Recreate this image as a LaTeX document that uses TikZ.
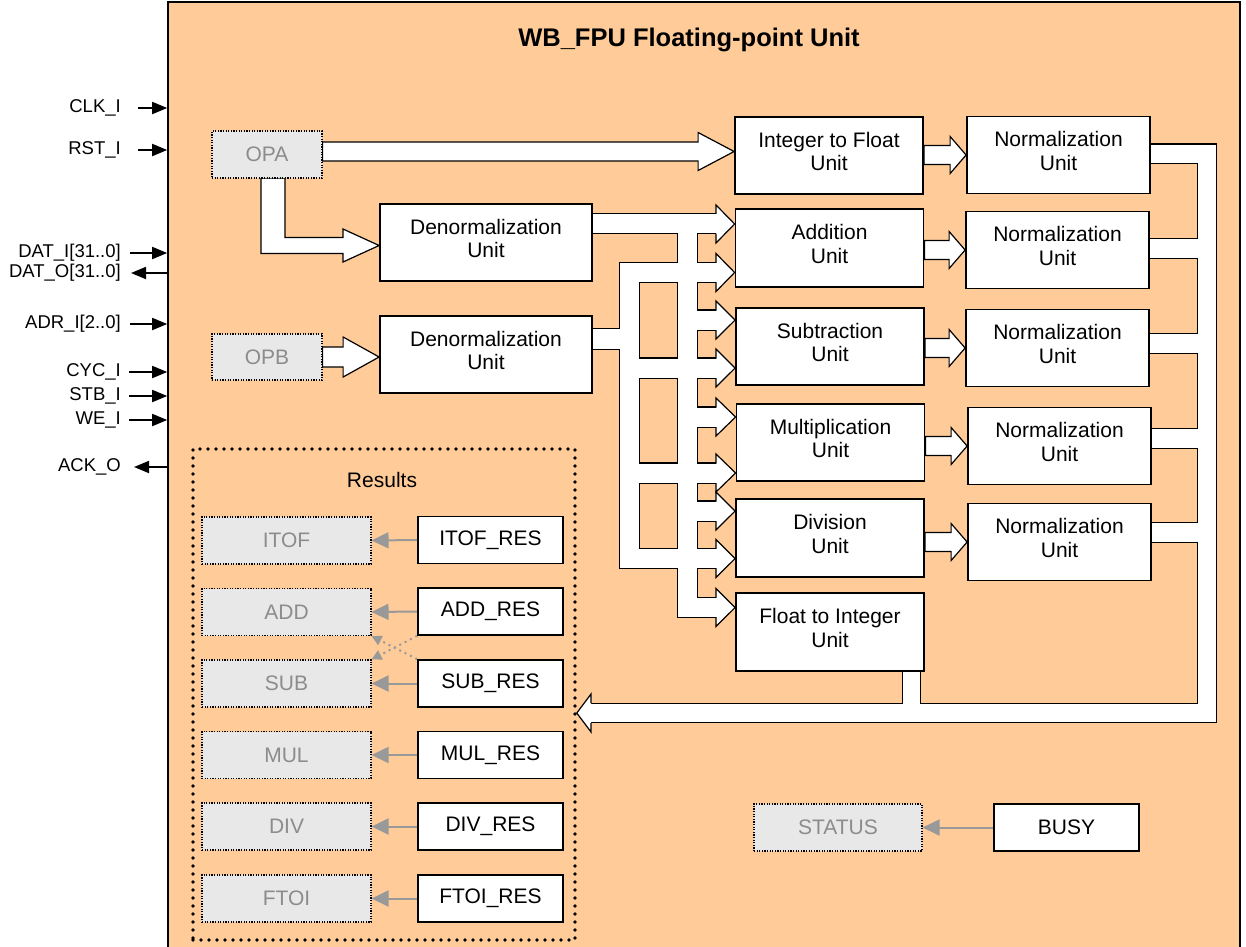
\documentclass[tikz,border=0pt]{standalone}
\usepackage{fontspec}
\setmainfont{Liberation Sans}
\usetikzlibrary{calc,arrows.meta}
\definecolor{fpuorange}{HTML}{FFCC99}
\definecolor{boxgray}{HTML}{E8E8E8}
\definecolor{txtgray}{HTML}{8C8C8C}
\definecolor{arrgray}{HTML}{999999}
% right/left block arrow (closed polygon): #1 start, #2 tip, #3 head length, #4 shaft half, #5 head half
\newcommand\blockarrowR[5]{%
  \filldraw[blockarrow] ($(#1)+(0,-#4)$) -- ($(#2)+(-#3,-#4)$) -- ($(#2)+(-#3,-#5)$) -- (#2)
    -- ($(#2)+(-#3,#5)$) -- ($(#2)+(-#3,#4)$) -- ($(#1)+(0,#4)$) -- cycle;}
% arrow head only (open outline): #1 base centre, #2 tip, #3 shaft half, #4 head half
\newcommand\headR[4]{%
  \filldraw[blockarrow] ($(#1)+(0,-#3)$) -- ($(#1)+(0,-#4)$) -- (#2) -- ($(#1)+(0,#4)$) -- ($(#1)+(0,#3)$);}
% network of wide bands, drawn twice (black outline pass, white inner pass)
\newcommand\fpunet[1]{%
  \draw[#1=19] (den1.east |- 0,223.5) -- (716.5,223.5);
  \draw[#1=19] (687.5,223.5) -- (687.5,607.5) -- (716.5,607.5);
  \draw[#1=19] (687.5,320) -- (716.5,320);
  \draw[#1=19] (687.5,417) -- (716.5,417);
  \draw[#1=19] (687.5,511) -- (716.5,511);
  \draw[#1=20] (den2.east |- 0,339) -- (629.5,339);
  \draw[#1=19] (716.5,272.5) -- (629.5,272.5) -- (629.5,558.5) -- (716.5,558.5);
  \draw[#1=19] (629.5,368) -- (716.5,368);
  \draw[#1=19] (629.5,473) -- (716.5,473);
  \draw[#1=18] (norm1.east |- 0,153.5) -- (1207,153.5) -- (1207,713) -- (590.5,713);
  \draw[#1=19] (norm2.east |- 0,248.5) -- (1207,248.5);
  \draw[#1=19] (norm3.east |- 0,343.5) -- (1207,343.5);
  \draw[#1=19] (norm4.east |- 0,438.5) -- (1207,438.5);
  \draw[#1=19] (norm5.east |- 0,532.5) -- (1207,532.5);
  \draw[#1=17] (ftoi.south -| 911.5,0) -- (911.5,713);
}
\newcommand\unitfont{\fontsize{21}{23.5}\selectfont}
\begin{document}
\begin{tikzpicture}[x=1pt,y=-1pt,
  frame/.style={draw=black, line width=1.6pt, fill=fpuorange, minimum width=1072pt, minimum height=960pt, inner sep=0pt},
  unit/.style={draw=black, line width=1.8pt, fill=white, minimum width=188pt, minimum height=77pt, inner sep=0pt,
     label={[align=center, font=\unitfont, yshift=4pt]center:#1}},
  normu/.style={unit={Normalization\\Unit}, minimum width=183pt},
  denu/.style={unit={Denormalization\\Unit}, minimum width=212pt},
  gbox/.style={draw=black, line width=1.1pt, dash pattern=on 1.2pt off 1.4pt, fill=boxgray, text=txtgray,
     minimum width=169pt, minimum height=47pt, inner sep=0pt, font=\unitfont},
  opbox/.style={gbox, minimum width=110pt},
  wbox/.style={draw=black, line width=1.8pt, fill=white, minimum width=145pt, minimum height=47pt, inner sep=0pt, font=\unitfont},
  resbox/.style={draw=black, line width=3.6pt, line cap=round, dash pattern=on 0pt off 8pt, minimum width=382pt, minimum height=491pt, inner sep=0pt},
  blockarrow/.style={draw=black, line width=1.2pt, fill=white, line join=miter},
  bandK/.style={draw=black, line width=#1pt+2.4pt, line join=miter},
  bandW/.style={draw=white, line width=#1pt, line join=miter},
  sig/.style={draw=black, line width=1.8pt, -{Triangle[length=15pt,width=12pt]}},
  siglab/.style={anchor=east, inner sep=0pt, font=\fontsize{18.5}{20}\selectfont},
  garrow/.style={draw=arrgray, line width=2pt, -{Triangle[length=17pt,width=16pt]}},
  garrowd/.style={draw=arrgray, line width=2pt, dash pattern=on 2pt off 4pt, -{Triangle[length=10pt,width=10pt]}}
]
\useasboundingbox (0,0) rectangle (1246,946);
\clip (0,0) rectangle (1246,946);
\fill[white] (0,0) rectangle (1246,946);

% frame and title
\node[frame] (fpu) at (704,482) {};
\node[font=\bfseries\fontsize{25.5}{30}\selectfont] (title) at (689,40) {WB\_FPU Floating-point Unit};

% interface signals
\node[siglab] (clk) at (121,108) {CLK\_I};
\node[siglab] (rst) at (121,150) {RST\_I};
\node[siglab] (dati) at (121,253) {DAT\_I[31..0]};
\node[siglab] (dato) at (121,273) {DAT\_O[31..0]};
\node[siglab] (adr) at (121,324) {ADR\_I[2..0]};
\node[siglab] (cyc) at (121,372) {CYC\_I};
\node[siglab] (stb) at (121,396) {STB\_I};
\node[siglab] (we) at (121,420) {WE\_I};
\node[siglab] (ack) at (121,467) {ACK\_O};
\draw[sig] ($(clk.east)+(17,0)$) -- (clk.east -| fpu.west);
\draw[sig] ($(rst.east)+(17,0)$) -- (rst.east -| fpu.west);
\draw[sig] ($(dati.east)+(9,0)$) -- (dati.east -| fpu.west);
\draw[sig] (dato.east -| fpu.west) -- ($(dato.east)+(10,0)$);
\draw[sig] ($(adr.east)+(9,0)$) -- (adr.east -| fpu.west);
\draw[sig] ($(cyc.east)+(8,0)$) -- (cyc.east -| fpu.west);
\draw[sig] ($(stb.east)+(8,0)$) -- (stb.east -| fpu.west);
\draw[sig] ($(we.east)+(8,0)$) -- (we.east -| fpu.west);
\draw[sig] (ack.east -| fpu.west) -- ($(ack.east)+(13,0)$);

% unit boxes (placed first so their anchors exist; redrawn later on top)
\path
  node[opbox] (opa) at (267,154.5) {OPA}
  node[opbox, minimum height=46pt] (opb) at (267,357) {OPB}
  node[denu] (den1) at (486,242.5) {}
  node[denu] (den2) at (486,354.5) {}
  node[unit={Integer to Float\\Unit}] (itof) at (829,155.5) {}
  node[unit={Addition\\Unit}, minimum height=78pt] (add) at (829.5,248) {}
  node[unit={Subtraction\\Unit}] (sub) at (830,346.5) {}
  node[unit={Multiplication\\Unit}] (mul) at (830.5,442.5) {}
  node[unit={Division\\Unit}, minimum height=78pt] (div) at (830,538) {}
  node[unit={Float to Integer\\Unit}, minimum height=78pt] (ftoi) at (830,632) {}
  node[normu] (norm1) at (1058.5,155) {}
  node[normu] (norm2) at (1057.5,250) {}
  node[normu] (norm3) at (1057.5,348) {}
  node[normu] (norm4) at (1059.5,446) {}
  node[normu] (norm5) at (1059.5,542) {};

% results area
\node[resbox] (results) at (384,694.5) {};

% wide band network
\fpunet{bandK}
\headR{716,224}{add.west |- 0,224}{9.5}{19}
\headR{716,272.5}{add.west |- 0,272.5}{9.5}{19}
\headR{716,320}{sub.west |- 0,320}{9.5}{19}
\headR{716,368}{sub.west |- 0,368}{9.5}{19}
\headR{716,417}{mul.west |- 0,417}{9.5}{19}
\headR{716,473}{mul.west |- 0,473}{9.5}{19}
\headR{716,511}{div.west |- 0,511}{9.5}{19}
\headR{716,558.5}{div.west |- 0,558.5}{9.5}{19}
\headR{716,607.5}{ftoi.west |- 0,607.5}{9.5}{19}
\headR{591,713}{results.east |- 0,713}{10}{19}
\fpunet{bandW}

% operand arrows
\coordinate (opaout) at ($(opa.east)+(0,-3)$);
\blockarrowR{opaout}{opaout -| itof.west}{36}{9.5}{19}
\filldraw[blockarrow] (261,178) -- (261,253.5) -- (343,253.5) -- (343,262) -- (den1.west |- 0,245.5)
  -- (343,229) -- (343,237.5) -- (285,237.5) -- (285,178) -- cycle;
\blockarrowR{opb.east}{opb.east -| den2.west}{36}{10}{20}

% unit to normalization arrows
\blockarrowR{itof.east |- norm1.west}{norm1.west}{16}{9.5}{18.5}
\blockarrowR{add.east |- norm2.west}{norm2.west}{16}{9.5}{18.5}
\blockarrowR{sub.east |- norm3.west}{norm3.west}{16}{9.5}{18.5}
\blockarrowR{mul.east |- norm4.west}{norm4.west}{16}{9.5}{18.5}
\blockarrowR{div.east |- norm5.west}{norm5.west}{16}{9.5}{18.5}

% redraw boxes on top
\path
  node[opbox] (opa2) at (opa) {OPA}
  node[opbox, minimum height=46pt] (opb2) at (opb) {OPB}
  node[denu] (den1b) at (den1) {}
  node[denu] (den2b) at (den2) {}
  node[unit={Integer to Float\\Unit}] (itofb) at (itof) {}
  node[unit={Addition\\Unit}, minimum height=78pt] (addb) at (add) {}
  node[unit={Subtraction\\Unit}] (subb) at (sub) {}
  node[unit={Multiplication\\Unit}] (mulb) at (mul) {}
  node[unit={Division\\Unit}, minimum height=78pt] (divb) at (div) {}
  node[unit={Float to Integer\\Unit}, minimum height=78pt] (ftoib) at (ftoi) {}
  node[normu] (norm1b) at (norm1) {}
  node[normu] (norm2b) at (norm2) {}
  node[normu] (norm3b) at (norm3) {}
  node[normu] (norm4b) at (norm4) {}
  node[normu] (norm5b) at (norm5) {};

% results
\node[font=\unitfont] (restitle) at (382,480) {Results};
\node[gbox] (itofg) at (286.5,540.5) {ITOF};
\node[gbox] (addg) at (286.5,612) {ADD};
\node[gbox] (subg) at (286.5,683.5) {SUB};
\node[gbox] (mulg) at (286.5,755) {MUL};
\node[gbox] (divg) at (286.5,826.5) {DIV};
\node[gbox] (ftoig) at (286.5,898.5) {FTOI};
\node[wbox] (itofr) at (490.5,540) {ITOF\_RES};
\node[wbox] (addr) at (490.5,611.5) {ADD\_RES};
\node[wbox] (subr) at (490.5,683.5) {SUB\_RES};
\node[wbox] (mulr) at (490.5,755) {MUL\_RES};
\node[wbox] (divr) at (490.5,826.5) {DIV\_RES};
\node[wbox] (ftoir) at (490.5,898.5) {FTOI\_RES};
\draw[garrow] (itofr.west) -- (itofg.east);
\draw[garrow] (addr.west) -- (addg.east);
\draw[garrow] (subr.west) -- (subg.east);
\draw[garrow] (mulr.west) -- (mulg.east);
\draw[garrow] (divr.west) -- (divg.east);
\draw[garrow] (ftoir.west) -- (ftoig.east);
\draw[garrowd] (addr.south west) -- (subg.north east);
\draw[garrowd] (subr.north west) -- (addg.south east);

% status
\node[gbox, minimum width=168pt] (status) at (838,827.5) {STATUS};
\node[wbox] (busy) at (1066.5,827.5) {BUSY};
\draw[garrow] (busy.west) -- (status.east);
\end{tikzpicture}
\end{document}
